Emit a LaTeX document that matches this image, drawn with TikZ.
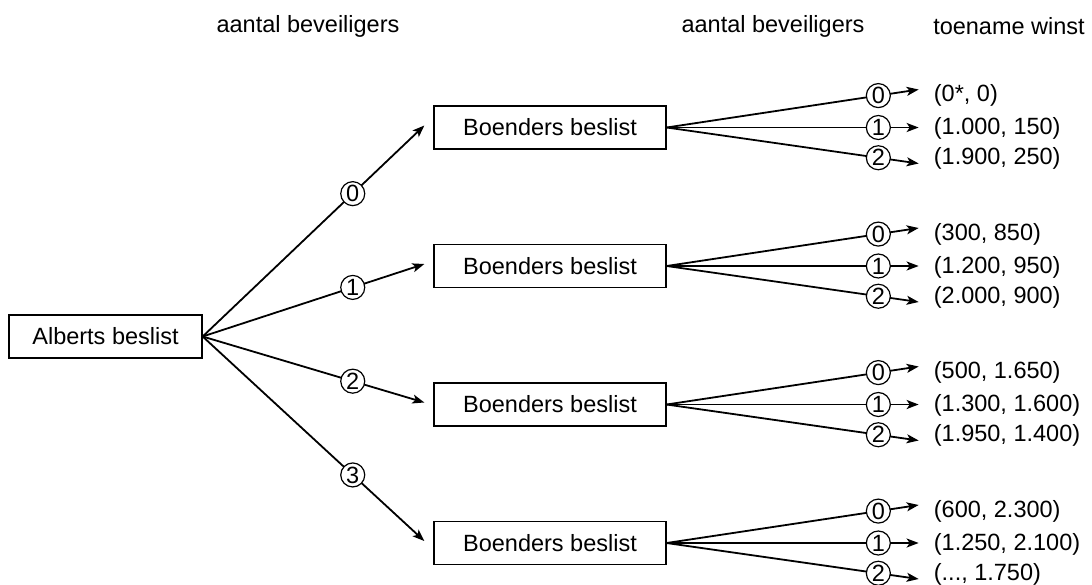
\documentclass[tikz,border=0pt]{standalone}
\usepackage{fontspec}
\setmainfont{Liberation Sans}
\usetikzlibrary{arrows.meta,calc}
\begin{document}
\begin{tikzpicture}[x=1pt,y=-1pt,
  every node/.style={font=\fontsize{23.5}{28}\selectfont},
  box/.style={draw, line width=1.3pt, minimum height=43pt, inner sep=0pt},
  num/.style={circle, draw, fill=white, line width=1.2pt, inner sep=0.6pt, minimum size=24pt},
  conn/.style={line width=1.8pt, -{Stealth[length=12pt,width=9pt,inset=3pt]}},
  val/.style={anchor=west, inner sep=0pt},
  head/.style={inner sep=0pt}]
\useasboundingbox (0,0) rectangle (1092,584);
\node[head] (h1) at (308,26) {aantal beveiligers};
\node[head] (h2) at (773,26) {aantal beveiligers};
\node[head] (h3) at (1009,26) {toename winst};
\node[box, minimum width=193pt] (A) at (105.5,336.5) {Alberts beslist};
\foreach \i/\c in {1/127.5, 2/266, 3/404.5, 4/543} {
  \node[box, minimum width=232pt] (B\i) at (550,\c) {Boenders beslist};
}
\foreach \i/\l in {1/0, 2/1, 3/2, 4/3} {
  \draw[conn] (A.east) -- node[num, pos=0.677] (L\i) {\l} ($(B\i.west)+(-9,-2)$);
}
\foreach \i in {1,...,4} {
  \draw[conn] (B\i.east) -- node[num, pos=0.84] (R\i a) {0} ($(B\i.east)+(252,-38)$);
  \draw[conn] (B\i.east) -- node[num, pos=0.84] (R\i b) {1} ($(B\i.east)+(252,0)$);
  \draw[conn] (B\i.east) -- node[num, pos=0.84] (R\i c) {2} ($(B\i.east)+(252,36)$);
}
\node[val] (v1a) at ($(B1.east)+(267,-32)$) {(0*, 0)};
\node[val] (v1b) at ($(B1.east)+(267,1)$) {(1.000, 150)};
\node[val] (v1c) at ($(B1.east)+(267,31)$) {(1.900, 250)};
\node[val] (v2a) at ($(B2.east)+(267,-32)$) {(300, 850)};
\node[val] (v2b) at ($(B2.east)+(267,1)$) {(1.200, 950)};
\node[val] (v2c) at ($(B2.east)+(267,31)$) {(2.000, 900)};
\node[val] (v3a) at ($(B3.east)+(267,-32)$) {(500, 1.650)};
\node[val] (v3b) at ($(B3.east)+(267,1)$) {(1.300, 1.600)};
\node[val] (v3c) at ($(B3.east)+(267,31)$) {(1.950, 1.400)};
\node[val] (v4a) at ($(B4.east)+(267,-32)$) {(600, 2.300)};
\node[val] (v4b) at ($(B4.east)+(267,1)$) {(1.250, 2.100)};
\node[val] (v4c) at ($(B4.east)+(267,31)$) {(..., 1.750)};
\end{tikzpicture}
\end{document}
